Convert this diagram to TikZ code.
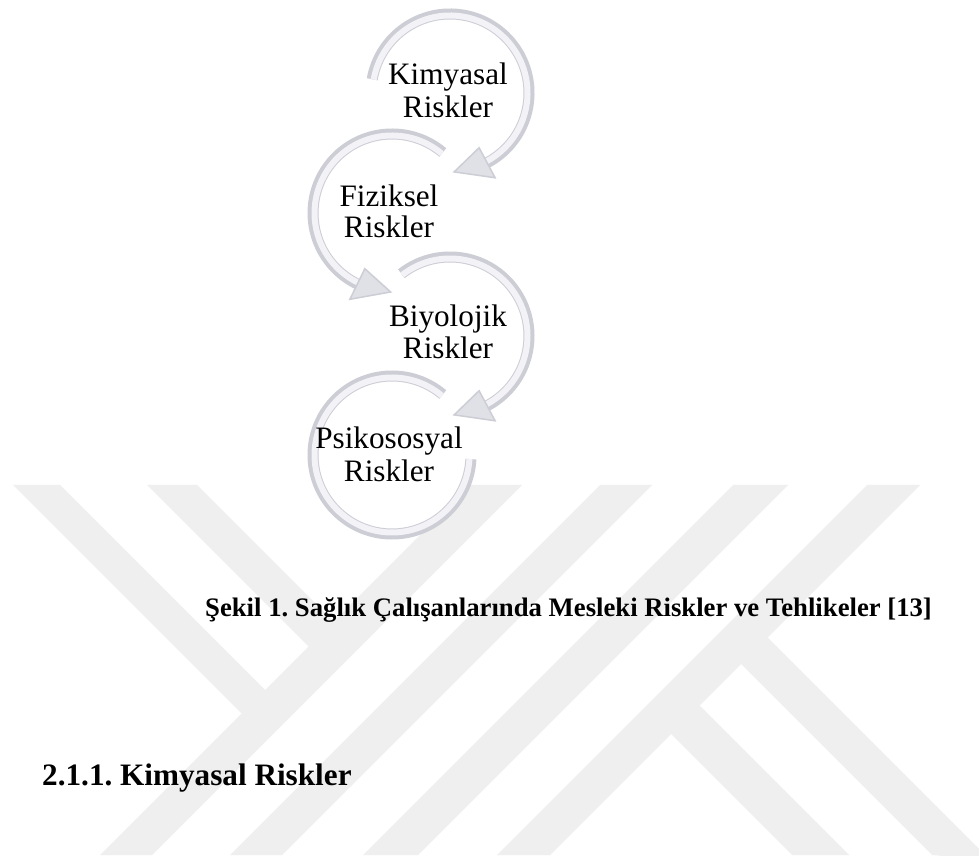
\documentclass[tikz,border=0pt]{standalone}
\usepackage{fontspec}
\setmainfont{Liberation Serif}
\usetikzlibrary{calc}
\definecolor{wm}{RGB}{239,239,239}
\definecolor{arcdark}{RGB}{204,205,213}
\definecolor{arcmid}{RGB}{224,225,231}
\definecolor{arclight}{RGB}{243,243,247}
\tikzset{
  lbl/.style={inner sep=0pt, anchor=base, font=\fontsize{31.2}{33}\selectfont},
  ring/.style={arcdark, line width=11pt},
  ringhl/.style={arclight, line width=6pt},
  headfill/.style={fill=arcmid, draw=arcdark, line width=1.5pt, line join=miter},
  band/.style={fill=wm},
  captxt/.style={inner sep=0pt, anchor=base west, font=\fontsize{26.7}{30}\selectfont\bfseries},
  headtxt/.style={inner sep=0pt, anchor=base west, font=\fontsize{31.2}{34}\selectfont\bfseries}
}
\newcommand{\ringarc}[3]{%
  \draw[ring] ($(#1)+(#2:79)$) arc[start angle=#2, end angle=#3, radius=79];
  \draw[ringhl] ($(#1)+(#2:77.5)$) arc[start angle=#2, end angle=#3, radius=77.5];
}
\newcommand{\ringhead}[3]{%
  \filldraw[headfill] ($(#1)+(#2:96)$) -- ($(#1)+(#3:79)$) -- ($(#1)+(#2:62)$) -- cycle;
}
\frenchspacing
\begin{document}
\begin{tikzpicture}[x=1pt,y=1pt]
\useasboundingbox (0,0) rectangle (979,860);
\fill[white] (0,0) rectangle (979,860);

% watermark
\begin{scope}[shift={(0,860)}, yscale=-1]
  \clip (0,485) rectangle (979,855);
  \fill[band] (470,485) -- (522,485) -- (152,855) -- (100,855) -- cycle;
  \fill[band] (600,485) -- (652,485) -- (282,855) -- (230,855) -- cycle;
  \fill[band] (733,485) -- (788,485) -- (418,855) -- (363,855) -- cycle;
  \fill[band] (867,485) -- (920,485) -- (550,855) -- (497,855) -- cycle;
  \fill[band] (13,485) -- (60,485) -- (277.5,702.5) -- (254,726) -- cycle;
  \fill[band] (147,485) -- (197,485) -- (346,634) -- (321,659) -- cycle;
  \fill[band] (658.5,721.5) -- (687,693) -- (849,855) -- (792,855) -- cycle;
  \fill[band] (728.5,651.5) -- (755,625) -- (990,860) -- (932,855) -- cycle;
\end{scope}

% ring centres
\coordinate (c1) at (450,767);
\coordinate (c2) at (392,647);
\coordinate (c3) at (450,524);
\coordinate (c4) at (392,405);

\fill[white] (c4) circle (73);

% rings
\ringarc{c4}{50}{357}
\ringarc{c3}{128}{-62}
\ringhead{c3}{-62}{-87}
\ringarc{c2}{50}{244}
\ringhead{c2}{244}{269}
\ringarc{c1}{170}{-62}
\ringhead{c1}{-62}{-87}

% labels
\node[lbl] (k1) at (448,775) {Kimyasal};
\node[lbl] (k2) at (448,742) {Riskler};
\node[lbl] (f1) at (389,653) {Fiziksel};
\node[lbl] (f2) at (389,622) {Riskler};
\node[lbl] (b1) at (448,533) {Biyolojik};
\node[lbl] (b2) at (448,501) {Riskler};
\node[lbl] (p1) at (389,411) {Psikososyal};
\node[lbl] (p2) at (389,378) {Riskler};

\node[captxt] (cap) at (205,244) {Şekil 1. Sağlık Çalışanlarında Mesleki Riskler ve Tehlikeler [13]};
\node[headtxt] (head) at (42,75) {2.1.1. Kimyasal Riskler};
\end{tikzpicture}
\end{document}
